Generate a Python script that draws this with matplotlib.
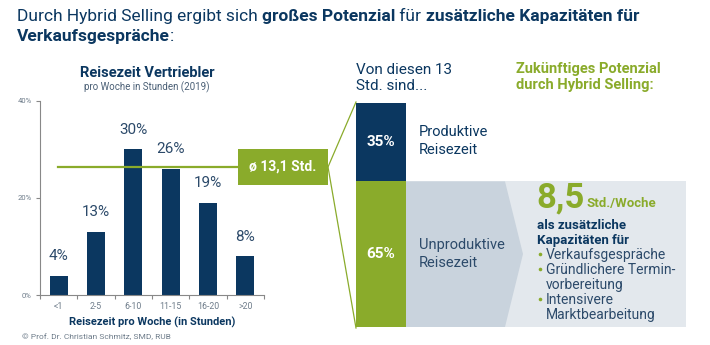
import matplotlib
matplotlib.use("Agg")
import matplotlib.pyplot as plt
from matplotlib.patches import Rectangle, Polygon
from matplotlib import font_manager

NAVY = "#0b3760"
GREEN = "#8aab2b"
GREY_TXT = "#6e7c8a"
BAND = "#e3e8ed"
CHEVRON = "#c9d3dd"

names = {f.name for f in font_manager.fontManager.ttflist}
FONT = "Roboto" if "Roboto" in names else "DejaVu Sans"
plt.rcParams["font.family"] = [FONT, "DejaVu Sans"]

# Reisezeit-Verteilung
categories = ["<1", "2-5", "6-10", "11-15", "16-20", ">20"]
shares = [4, 13, 30, 26, 19, 8]
avg_hours = "13,1"
avg_level = 26.4  # Höhe der Durchschnittslinie im Diagramm

# Aufteilung der 13 Std.
split_labels = ["Produktive\nReisezeit", "Unproduktive\nReisezeit"]
split_values = [35, 65]
potential_hours = "8,5"
bullets = ["Verkaufsgespräche", "Gründlichere Termin-\nvorbereitung",
           "Intensivere\nMarktbearbeitung"]

W, H = 710, 345
fig = plt.figure(figsize=(W / 100, H / 100), dpi=100)


def px_axes(x0, y0, w, h):
    return fig.add_axes([x0 / W, 1 - (y0 + h) / H, w / W, h / H])


# --- Balkendiagramm ---
ax = px_axes(40, 101, 224, 194)
ax.set_facecolor("none")
x = range(len(categories))
ax.bar(x, shares, width=0.49, color=NAVY)
for i, v in enumerate(shares):
    ax.text(i, v + 2.6, f"{v}%", ha="center", va="bottom", fontsize=11,
            color="#2c4a6a")
ax.set_xlim(-0.5, len(categories) - 0.5)
ax.set_ylim(0, 40)
ax.set_yticks([0, 20, 40])
ax.set_yticklabels(["0%", "20%", "40%"])
ax.set_xticks([i - 0.5 for i in range(len(categories) + 1)])
ax.set_xticklabels([])
ax.set_xticks(list(x), minor=True)
ax.set_xticklabels(categories, minor=True)
ax.tick_params(axis="x", which="minor", length=0, pad=5, labelsize=6.3,
               labelcolor=GREY_TXT)
ax.tick_params(axis="x", which="major", length=3, color="#888888")
ax.tick_params(axis="y", length=3, color="#888888", labelsize=5.5,
               labelcolor=GREY_TXT, pad=3)
for s in ("top", "right"):
    ax.spines[s].set_visible(False)
for s in ("left", "bottom"):
    ax.spines[s].set_color("#888888")
    ax.spines[s].set_linewidth(0.8)
ax.set_xlabel("Reisezeit pro Woche (in Stunden)", fontsize=8,
              fontweight="bold", color=NAVY, labelpad=4)

# --- gestapelter Balken ---
sx = px_axes(356, 103, 50, 224)
bottom = 0
for v, c in zip(split_values, [NAVY, GREEN]):
    sx.bar(0, v, bottom=bottom, width=1, color=c)
    sx.text(0, bottom + v / 2, f"{v}%", ha="center", va="center",
            fontsize=11, fontweight="bold", color="white")
    bottom += v
sx.set_xlim(-0.5, 0.5)
sx.set_ylim(100, 0)
sx.axis("off")

# --- Overlay in Pixelkoordinaten ---
ov = fig.add_axes([0, 0, 1, 1], zorder=10)
ov.set_xlim(0, W)
ov.set_ylim(H, 0)
ov.axis("off")
ov.patch.set_alpha(0)

split_y = 103 + 224 * split_values[0] / 100
ov.add_patch(Rectangle((406, split_y), 280, 327 - split_y, color=BAND, lw=0))
ov.add_patch(Polygon([(406, split_y), (505, split_y), (523, 254),
                      (505, 327), (406, 327)], closed=True, color=CHEVRON,
                     lw=0))

# Durchschnittslinie und Box
line_y = 295 - 194 * avg_level / 40
ov.plot([58, 240], [line_y, line_y], color=GREEN, lw=1.6)
ov.add_patch(Rectangle((238, line_y - 18), 90, 36, color=GREEN, lw=0))
ov.text(283, line_y, f"ø {avg_hours} Std.", ha="center", va="center",
        color="white", fontsize=10, fontweight="bold")
ov.plot([328, 356], [line_y, 102], color=GREEN, lw=0.9)
ov.plot([328, 356], [line_y, 328], color=GREEN, lw=0.9)

renderer = fig.canvas.get_renderer()


def rich(x0, y0, parts, size, color):
    xx = x0
    for txt, bold in parts:
        t = ov.text(xx, y0, txt, fontsize=size, color=color,
                    fontweight="bold" if bold else "normal",
                    ha="left", va="baseline")
        xx += t.get_window_extent(renderer).width


rich(17, 21, [("Durch Hybrid Selling ergibt sich ", False),
              ("großes Potenzial", True), (" für ", False),
              ("zusätzliche Kapazitäten für", True)], 12.5, NAVY)
rich(17, 41, [("Verkaufsgespräche", True), (":", False)], 12.5, NAVY)

ov.text(147, 73, "Reisezeit Vertriebler", ha="center", va="center",
        fontsize=10.5, fontweight="bold", color=NAVY)
ov.text(147, 87, "pro Woche in Stunden (2019)", ha="center", va="center",
        fontsize=7, color="#4a5f75")
ov.text(22, 337, "© Prof. Dr. Christian Schmitz, SMD, RUB", ha="left",
        va="center", fontsize=6, color=GREY_TXT)

ov.text(356, 78, "Von diesen 13\nStd. sind...", ha="left", va="center",
        fontsize=11, color=NAVY, linespacing=1.25)
ov.text(516, 77, "Zukünftiges Potenzial\ndurch Hybrid Selling:", ha="left",
        va="center", fontsize=10.5, fontweight="bold", color=GREEN,
        linespacing=1.2)

ov.text(419, 141, split_labels[0], ha="left", va="center", fontsize=10.5,
        color=NAVY, linespacing=1.3)
ov.text(419, 254, split_labels[1], ha="left", va="center", fontsize=10.5,
        color="#2c4a6a", linespacing=1.3)

t = ov.text(536, 207, potential_hours, ha="left", va="baseline",
            fontsize=25, fontweight="bold", color=GREEN)
bx = 536 + t.get_window_extent(renderer).width + 2
ov.text(bx, 207, "Std./Woche", ha="left", va="baseline", fontsize=9.5,
        fontweight="bold", color=GREEN)
ov.text(537, 233, "als zusätzliche\nKapazitäten für", ha="left",
        va="center", fontsize=9.5, fontweight="bold", color=NAVY,
        linespacing=1.15)

# Aufzählung, eine Zeile je 15 px; Punkt als Marker auf Mittelhöhe
by = 255
for b in bullets:
    ov.plot(540, by - 1, "o", ms=2.6, color=GREEN, mew=0)
    for line in b.split("\n"):
        ov.text(546, by, line, ha="left", va="center", fontsize=10,
                color="#2c4a6a")
        by += 15

fig.savefig("out.png", dpi=100)
